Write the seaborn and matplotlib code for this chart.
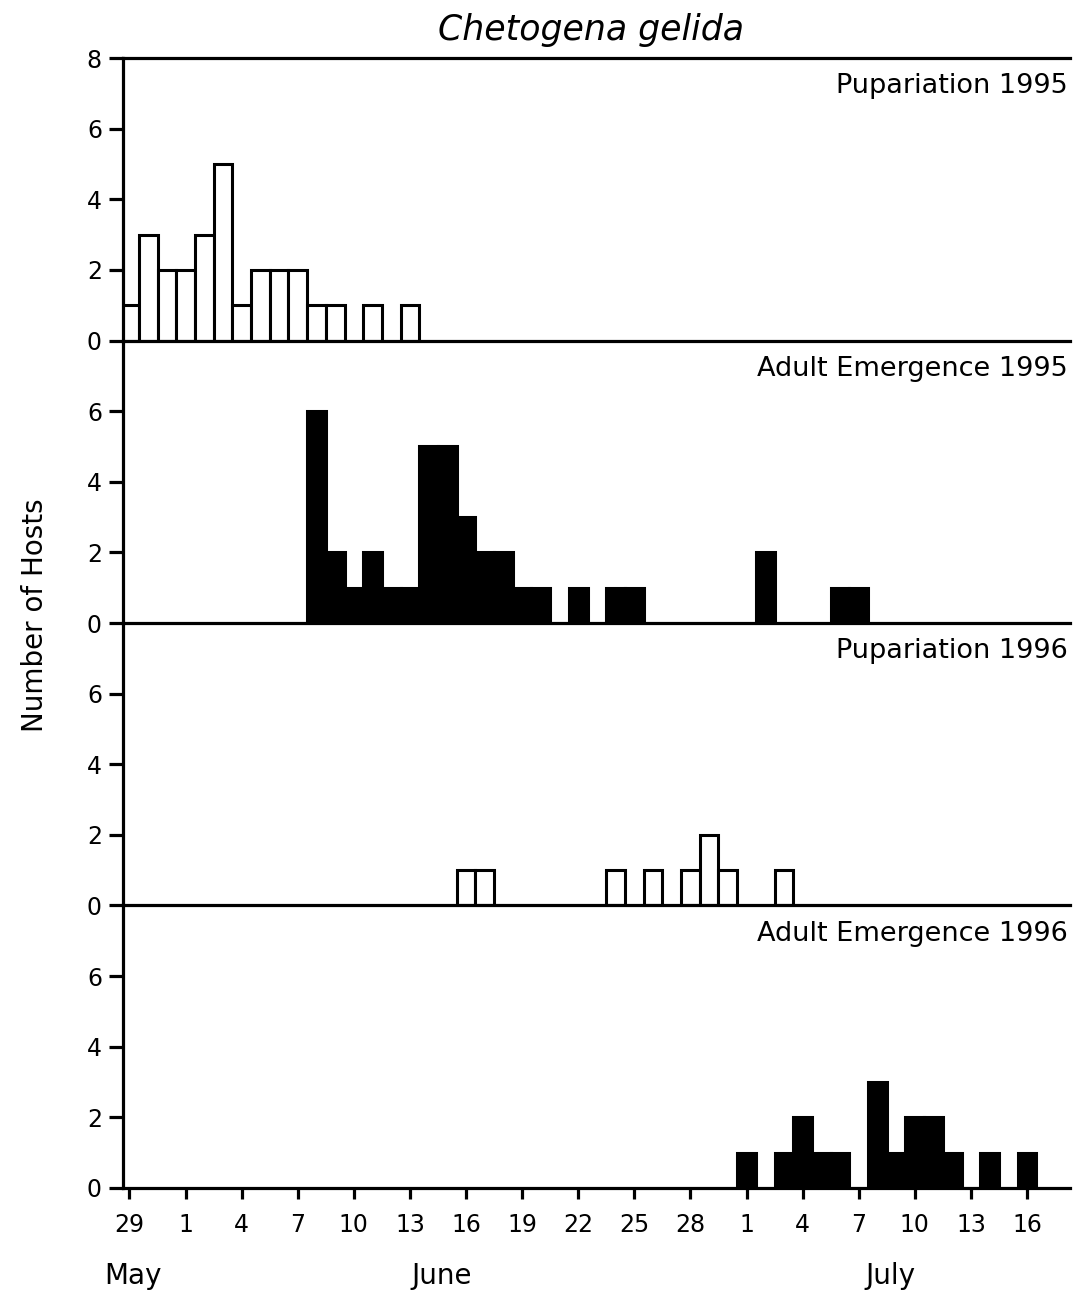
import matplotlib
matplotlib.use("Agg")
import matplotlib.pyplot as plt
import numpy as np
import pandas as pd
import seaborn as sns

# Daily host counts (month-day, number of hosts)
pup95_dates = ["05-29", "05-30", "05-31", "06-01", "06-02", "06-03", "06-04",
               "06-05", "06-06", "06-07", "06-08", "06-09", "06-11", "06-13"]
pup95_counts = [1, 3, 2, 2, 3, 5, 1, 2, 2, 2, 1, 1, 1, 1]

adult95_dates = ["06-08", "06-09", "06-10", "06-11", "06-12", "06-13", "06-14",
                 "06-15", "06-16", "06-17", "06-18", "06-19", "06-20", "06-22",
                 "06-24", "06-25", "07-02", "07-06", "07-07"]
adult95_counts = [6, 2, 1, 2, 1, 1, 5, 5, 3, 2, 2, 1, 1, 1, 1, 1, 2, 1, 1]

pup96_dates = ["06-16", "06-17", "06-24", "06-26", "06-28", "06-29", "06-30", "07-03"]
pup96_counts = [1, 1, 1, 1, 1, 2, 1, 1]

adult96_dates = ["07-01", "07-03", "07-04", "07-05", "07-06", "07-08", "07-09",
                 "07-10", "07-11", "07-12", "07-14", "07-16"]
adult96_counts = [1, 1, 2, 1, 1, 3, 1, 2, 2, 1, 1, 1]

panel_titles = ["Pupariation 1995", "Adult Emergence 1995",
                "Pupariation 1996", "Adult Emergence 1996"]
panel_fill = ["white", "black", "white", "black"]

tick_dates = ["05-29", "06-01", "06-04", "06-07", "06-10", "06-13", "06-16",
              "06-19", "06-22", "06-25", "06-28", "07-01", "07-04", "07-07",
              "07-10", "07-13", "07-16"]
tick_labels = ["29", "1", "4", "7", "10", "13", "16", "19", "22", "25", "28",
               "1", "4", "7", "10", "13", "16"]
month_names = ["May", "June", "July"]
month_pos = [0.2, 16.7, 40.7]

BASE = pd.Timestamp("1995-05-29")


def day_index(md):
    return [(pd.Timestamp("1995-" + d) - BASE).days for d in md]


series = [(pup95_dates, pup95_counts), (adult95_dates, adult95_counts),
          (pup96_dates, pup96_counts), (adult96_dates, adult96_counts)]

sns.set_style("ticks")
plt.rcParams["font.family"] = ["DejaVu Sans"]
plt.rcParams.update({
    "axes.linewidth": 2.3,
    "axes.edgecolor": "black",
    "text.color": "black",
    "axes.labelcolor": "black",
    "xtick.color": "black",
    "ytick.color": "black",
})

fig = plt.figure(figsize=(10.73, 12.92), dpi=100)

left, width = 0.1144, 0.8828
bottom, top = 0.0805, 0.9551
h = (top - bottom) / 4

axes = []
for i, (dates, counts) in enumerate(series):
    ax = fig.add_axes([left, top - (i + 1) * h, width, h],
                      sharex=axes[0] if axes else None)
    ax.patch.set_visible(False)
    axes.append(ax)
    df = pd.DataFrame({"day": day_index(dates), "count": counts})
    sns.barplot(data=df, x="day", y="count", native_scale=True, width=1,
                color=panel_fill[i], edgecolor="black", linewidth=2.2,
                saturation=1, errorbar=None, ax=ax)
    ax.set_xlim(-0.36, 50.3)
    ax.set_ylim(0, 8)
    ax.set_xlabel("")
    ax.set_ylabel("")
    ax.set_yticks([0, 2, 4, 6, 8] if i == 0 else [0, 2, 4, 6])
    ax.tick_params(axis="y", direction="out", length=10, width=2.3,
                   labelsize=17, pad=5)
    ax.spines["right"].set_visible(False)
    ax.spines["top"].set_visible(i == 0)
    ax.text(0.998, 0.9, panel_titles[i], transform=ax.transAxes,
            ha="right", va="center", fontsize=19.5)
    if i < 3:
        ax.tick_params(axis="x", bottom=False, labelbottom=False)

axb = axes[-1]
axb.set_xticks(day_index(tick_dates))
axb.set_xticklabels(tick_labels)
axb.tick_params(axis="x", direction="out", length=8, width=2.3,
                labelsize=17, pad=10)
for name, pos in zip(month_names, month_pos):
    axb.text(pos, -0.31, name, transform=axb.get_xaxis_transform(),
             ha="center", va="center", fontsize=20)

fig.text(0.551, 0.977, "Chetogena gelida", ha="center", va="center",
         fontsize=25, style="italic")
fig.text(0.033, 0.524, "Number of Hosts", rotation=90, ha="center",
         va="center", fontsize=20)

fig.savefig("out.png", dpi=100)
